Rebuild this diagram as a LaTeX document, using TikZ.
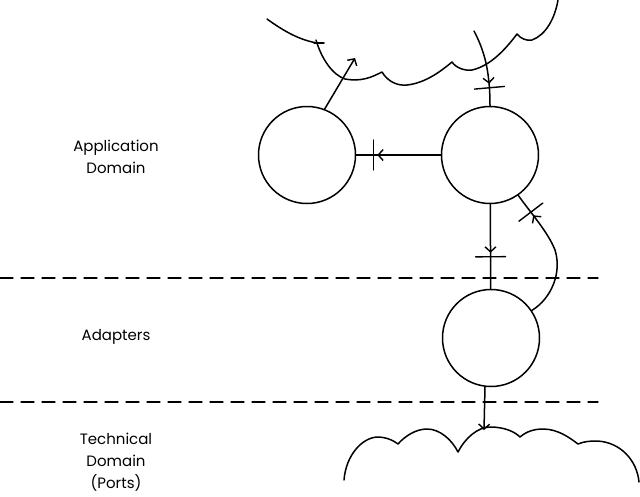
\documentclass[tikz,border=0pt]{standalone}
\usepackage{fontspec}
\setmainfont{Poppins}
\usetikzlibrary{arrows.meta}
\usetikzlibrary{decorations.markings}

\begin{document}
\begin{tikzpicture}[x=1pt,y=-1pt,line width=1.5pt,line cap=round,line join=round,
  hand/.tip={Straight Barb[length=5pt,width=11pt,line width=1.4pt]},
  every node/.style={font=\fontsize{15}{22}\selectfont,align=center},
  port/.style={circle,draw,minimum size=97pt,inner sep=0pt},
  layer/.style={dash pattern=on 13pt off 8pt,line width=1.2pt},
  call/.style={-hand},
  guarded/.style={postaction={decorate},decoration={markings,
    mark=at position -#1 with {\arrow{hand}\draw[line width=1.4pt] (4pt,-15pt) -- (4pt,15pt);}}}]

    \useasboundingbox (0,0) rectangle (640,496);

    \node[port] (appl) at (307,155) {};
    \node[port] (core) at (490,155) {};
    \node[port] (adapter) at (491,338) {};
    \coordinate (outA) at (355,58);
    \coordinate (inA) at (474,31);
    \coordinate (tech) at (484,430);

    \node (applabel) at (116,157) {Application\\Domain};
    \node (adaplabel) at (116,337) {Adapters};
    \node (techlabel) at (116,462) {Technical\\Domain\\(Ports)};

    \draw (267,19) .. controls (285,32) and (300,40) .. (317,43);
    \draw (314,43) -- (324,43);
    \draw (316,40) .. controls (322,60) and (333,75) .. (345,79)
        .. controls (362,82) and (372,77) .. (382,72)
        .. controls (388,82) and (398,86) .. (407,85)
        .. controls (425,83) and (440,72) .. (452,62)
        .. controls (456,68) and (465,71) .. (472,70)
        .. controls (490,66) and (505,50) .. (517,34)
        .. controls (521,39) and (527,41) .. (532,40)
        .. controls (546,35) and (555,18) .. (558,0);

    \draw (344,480) .. controls (346,455) and (362,438) .. (377,437)
        .. controls (387,437) and (394,441) .. (398,444)
        .. controls (405,436) and (416,429) .. (427,429)
        .. controls (440,429) and (452,440) .. (458,452)
        .. controls (465,438) and (478,427) .. (490,427)
        .. controls (505,427) and (515,432) .. (520,437)
        .. controls (527,431) and (535,429) .. (543,429)
        .. controls (558,429) and (570,438) .. (578,444)
        .. controls (585,441) and (592,441) .. (597,441)
        .. controls (620,442) and (637,460) .. (639,482);

    \draw[layer] (0,278) -- (598,278);
    \draw[layer] (0,402) -- (598,402);

    \draw[call] (appl.69) -- (outA);
    \draw[guarded=22pt] (inA) .. controls (484,50) and (490,70) .. (core.north);
    \draw[guarded=21pt] (core) -- (appl);
    \draw[guarded=36pt] (core) -- (adapter);
    \draw[guarded=25pt] (adapter.34) .. controls (552,298) and (562,272) .. (555,250)
        .. controls (548,232) and (530,212) .. (core.-55);
    \draw[call] (adapter.-97) -- (tech);
\end{tikzpicture}
\end{document}
